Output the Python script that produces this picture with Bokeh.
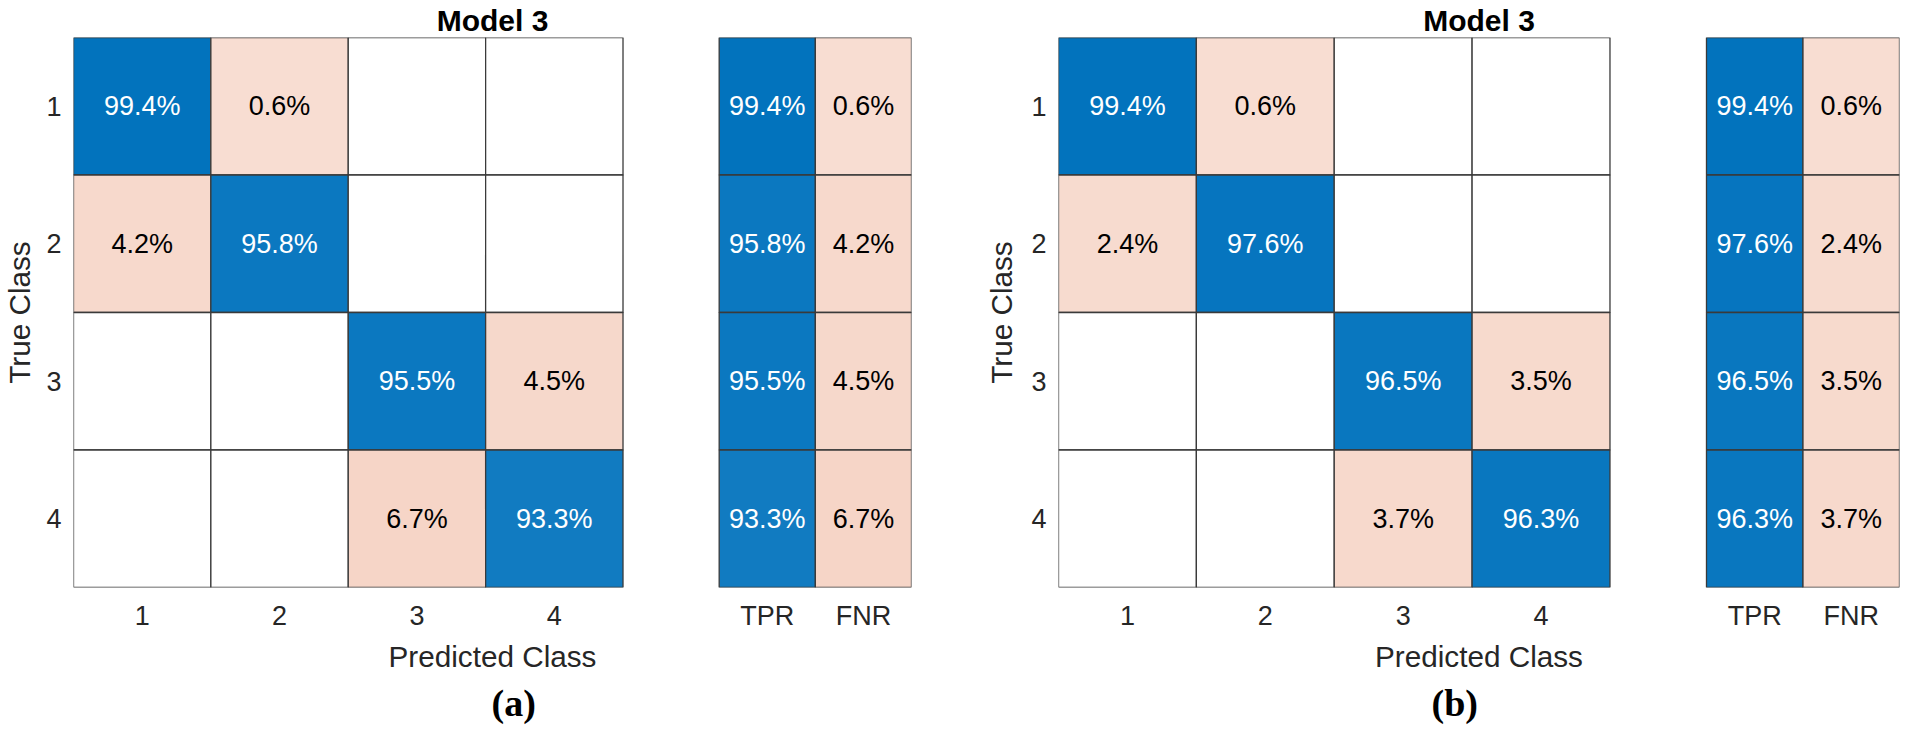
from bokeh.plotting import figure
from bokeh.models import Range1d, FixedTicker, ColumnDataSource, Title
from bokeh.layouts import row
from bokeh.embed import file_html
from bokeh.resources import INLINE
from bokeh.core.properties import value

# ---------------- data ----------------
classes = ["1", "2", "3", "4"]
summary_labels = ["TPR", "FNR"]
titles = ["Model 3", "Model 3"]
panel_tags = ["(a)", "(b)"]
x_label = "Predicted Class"
y_label = "True Class"

conf_a = [[99.4, 0.6, 0, 0],
          [4.2, 95.8, 0, 0],
          [0, 0, 95.5, 4.5],
          [0, 0, 6.7, 93.3]]
tpr_a = [99.4, 95.8, 95.5, 93.3]
fnr_a = [0.6, 4.2, 4.5, 6.7]

conf_b = [[99.4, 0.6, 0, 0],
          [2.4, 97.6, 0, 0],
          [0, 0, 96.5, 3.5],
          [0, 0, 3.7, 96.3]]
tpr_b = [99.4, 97.6, 96.5, 96.3]
fnr_b = [0.6, 2.4, 3.5, 3.7]

# ---------------- layout / style ----------------
FONT = "Liberation Sans"
SERIF = "Liberation Serif"
BLUE = (0, 114, 189)
ORANGE = (217, 83, 25)
EDGE = "#3a3a3a"
AX_COL = "#262626"

FRAME_W = 842
FRAME_H = 553
TOP = 37
FIG_H = 732
GAP = 0.7      # gap between matrix and summary (in cell units)
SW = 0.7       # summary cell width (in cell units)
X0 = 0.5
X1 = 4.5 + GAP + 2 * SW
TPR_X = 4.5 + GAP + SW / 2
FNR_X = TPR_X + SW


def blend(base, t):
    return "#%02x%02x%02x" % tuple(int(round(255 + (c - 255) * t)) for c in base)


def diag_color(v):
    return blend(BLUE, v / 100.0)


def off_color(v):
    return blend(ORANGE, 0.19 + 0.008 * v)


def make_panel(conf, tpr, fnr, title, tag, left, right, ylab_standoff, tag_offset):
    p = figure(width=left + FRAME_W + right, height=FIG_H,
               x_range=Range1d(X0, X1), y_range=Range1d(4.5, 0.5),
               output_backend="svg", toolbar_location=None,
               min_border_left=left, min_border_right=right,
               min_border_top=TOP, min_border_bottom=FIG_H - TOP - FRAME_H)
    p.background_fill_color = "white"
    p.border_fill_color = "white"
    p.outline_line_color = None
    p.grid.visible = False

    xs, ys, cols, txt, tcol, ws = [], [], [], [], [], []
    for i, r in enumerate(conf):
        for j, v in enumerate(r):
            xs.append(j + 1)
            ys.append(i + 1)
            ws.append(1.0)
            if v == 0:
                cols.append("white")
                txt.append("")
                tcol.append("black")
            elif i == j:
                cols.append(diag_color(v))
                txt.append(f"{v:.1f}%")
                tcol.append("white")
            else:
                cols.append(off_color(v))
                txt.append(f"{v:.1f}%")
                tcol.append("black")
    for i in range(4):
        xs += [TPR_X, FNR_X]
        ys += [i + 1, i + 1]
        ws += [SW, SW]
        cols += [diag_color(tpr[i]), off_color(fnr[i])]
        txt += [f"{tpr[i]:.1f}%", f"{fnr[i]:.1f}%"]
        tcol += ["white", "black"]

    src = ColumnDataSource(dict(x=xs, y=ys, w=ws, c=cols, t=txt, tc=tcol))
    p.rect(x="x", y="y", width="w", height=1, fill_color="c", line_color=EDGE,
           line_width=1.3, source=src)
    p.text(x="x", y="y", text="t", text_color="tc", text_align="center",
           text_baseline="middle", text_font=value(FONT), text_font_size="27px",
           source=src)

    # x axis
    xt = [1, 2, 3, 4, TPR_X, FNR_X]
    xl = classes + summary_labels
    p.xaxis.ticker = FixedTicker(ticks=xt)
    p.xaxis.major_label_overrides = {k: v for k, v in zip(xt, xl)}
    p.xaxis.axis_label = x_label
    p.xaxis.major_label_standoff = 13
    p.xaxis.axis_label_standoff = 6
    # y axis
    p.yaxis.ticker = FixedTicker(ticks=[1, 2, 3, 4])
    p.yaxis.major_label_overrides = {k: v for k, v in zip([1, 2, 3, 4], classes)}
    p.yaxis.major_label_standoff = 12
    p.yaxis.axis_label = y_label
    p.yaxis.axis_label_standoff = ylab_standoff
    for ax in (p.xaxis, p.yaxis):
        ax.axis_line_color = None
        ax.major_tick_line_color = None
        ax.minor_tick_line_color = None
        ax.major_tick_out = 0
        ax.major_tick_in = 0
        ax.major_label_text_font = FONT
        ax.major_label_text_font_size = "27px"
        ax.major_label_text_color = AX_COL
        ax.axis_label_text_font = FONT
        ax.axis_label_text_font_size = "29.7px"
        ax.axis_label_text_font_style = "normal"
        ax.axis_label_text_color = AX_COL

    # chart title
    p.title.text = title
    p.title.align = "center"
    p.title.text_font = FONT
    p.title.text_font_size = "30px"
    p.title.text_font_style = "bold"
    p.title.text_color = "black"
    p.title.standoff = 2

    # panel tag below
    p.add_layout(Title(text=tag, align="left", offset=tag_offset,
                       vertical_align="top", standoff=13,
                       text_font=SERIF, text_font_size="38px",
                       text_font_style="bold", text_color="black"), "below")
    return p


pa = make_panel(conf_a, tpr_a, fnr_a, titles[0], panel_tags[0],
                left=69, right=71, ylab_standoff=7, tag_offset=418)
pb = make_panel(conf_b, tpr_b, fnr_b, titles[1], panel_tags[1],
                left=75, right=4, ylab_standoff=10, tag_offset=373)

layout = row(pa, pb)
open("out.html", "w").write(file_html(layout, INLINE))
